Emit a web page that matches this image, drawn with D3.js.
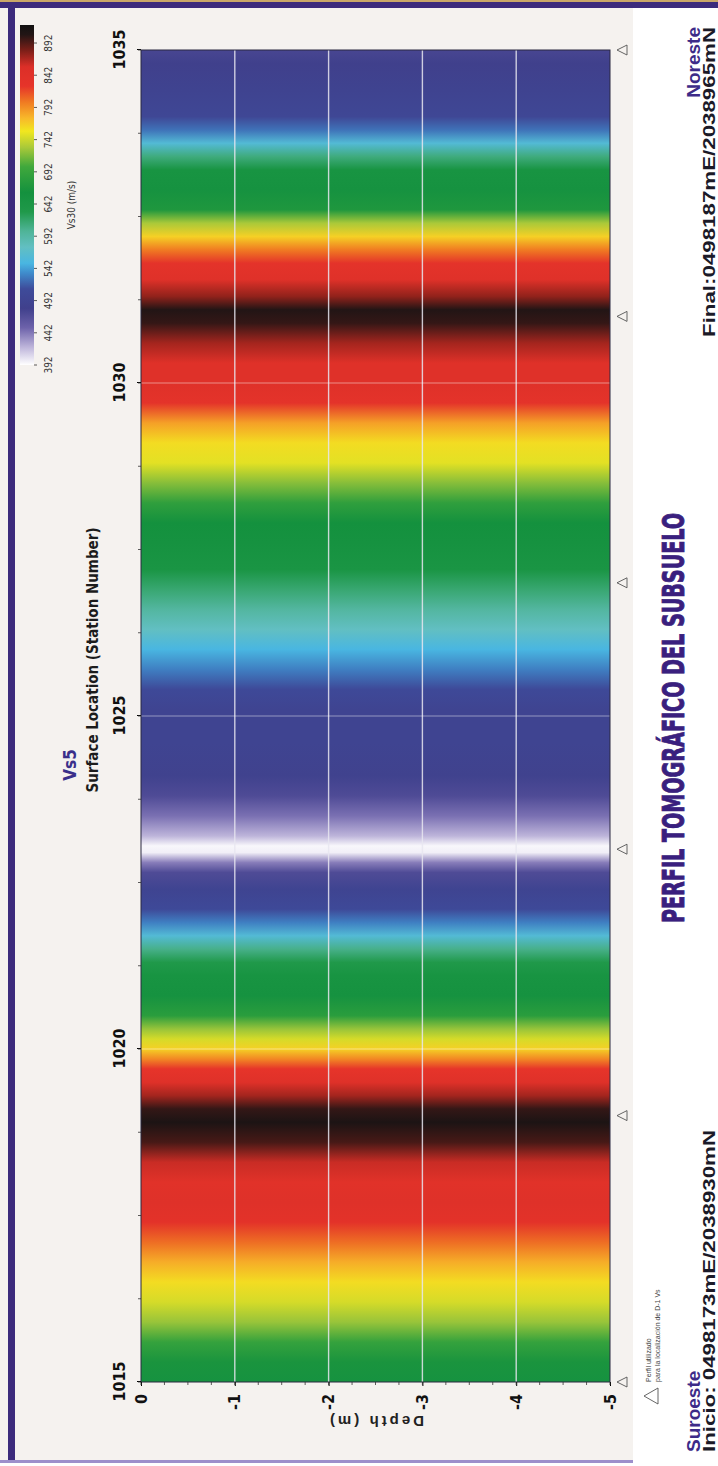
<!DOCTYPE html>
<html>
<head>
<meta charset="utf-8">
<script src="https://cdn.jsdelivr.net/npm/d3@7"></script>
<style>
  body { margin: 0; background: #fff; }
  svg { display: block; }
</style>
</head>
<body>
<svg id="chart" width="718" height="1466"></svg>
<script>
// Vs (m/s) read along the profile, by station number
const stations = [1015.0, 1015.3, 1015.6, 1015.9, 1016.2, 1016.5, 1016.8, 1017.1, 1017.4, 1017.7,
    1018.0, 1018.3, 1018.6, 1018.9, 1019.1, 1019.3, 1019.5, 1019.7, 1019.85, 1020.0,
    1020.15, 1020.3, 1020.5, 1020.8, 1021.1, 1021.3, 1021.5, 1021.7, 1021.9, 1022.1,
    1022.4, 1022.65, 1022.8, 1022.95, 1023.05, 1023.2, 1023.5, 1023.8, 1024.1, 1024.6,
    1025.1, 1025.4, 1025.7, 1026.0, 1026.3, 1026.6, 1026.9, 1027.2, 1027.6, 1027.9,
    1028.2, 1028.5, 1028.8, 1029.1, 1029.4, 1029.7, 1030.0, 1030.3, 1030.6, 1030.9,
    1031.1, 1031.3, 1031.55, 1031.8, 1032.0, 1032.2, 1032.4, 1032.6, 1032.9, 1033.2,
    1033.4, 1033.6, 1033.8, 1034.0, 1034.4, 1034.8, 1035.0];
const vs = [655, 665, 690, 725, 745, 760, 780, 805, 835, 845,
    840, 860, 895, 910, 900, 870, 845, 825, 795, 765,
    745, 725, 680, 655, 650, 630, 605, 560, 530, 505,
    490, 470, 440, 398, 395, 420, 445, 470, 485, 490,
    490, 505, 530, 550, 575, 595, 615, 645, 655, 660,
    685, 720, 750, 760, 785, 830, 845, 845, 870, 900,
    905, 875, 845, 830, 800, 765, 730, 670, 655, 650,
    610, 560, 525, 500, 488, 480, 475];

const stationTicks = [1015, 1020, 1025, 1030, 1035];
const depthTicks = [0, -1, -2, -3, -4, -5];
const markerStations = [1015, 1019, 1023, 1027, 1031, 1035];

const cbarTicks = [392, 442, 492, 542, 592, 642, 692, 742, 792, 842, 892];
const cbarValues = [392, 420, 450, 480, 510, 535, 550, 575, 600, 630, 660, 700, 730, 755, 775, 800, 825, 855, 880, 905, 920];
const cbarColors = ["#ffffff", "#bdb4da", "#6d62aa", "#40408c", "#3e4b9a", "#3f8ccc", "#49b6e1", "#62bfc2", "#4fb497", "#20994a",
    "#14913e", "#40a83c", "#aac939", "#f1e71f", "#f8b92a", "#f07b22", "#e6342a", "#dc2f28", "#7e1f18", "#221515", "#111111"];

var svg = d3.select("#chart");
var narrow = "'Liberation Sans Narrow', 'DejaVu Sans Condensed', 'Liberation Sans', sans-serif";
var wide = "'Liberation Sans', Arial, sans-serif";

// page frame
svg.append("rect").attr("x", 0).attr("y", 0).attr("width", 718).attr("height", 1466).attr("fill", "#fff");
svg.append("rect").attr("x", 0).attr("y", 0).attr("width", 633).attr("height", 1462).attr("fill", "#f5f2ef");
svg.append("rect").attr("x", 0).attr("y", 0).attr("width", 718).attr("height", 2).attr("fill", "#c9a768");
svg.append("rect").attr("x", 0).attr("y", 2).attr("width", 718).attr("height", 6).attr("fill", "#3c2b7c");
svg.append("rect").attr("x", 8).attr("y", 2).attr("width", 7).attr("height", 1458).attr("fill", "#3c2b7c");
svg.append("rect").attr("x", 0).attr("y", 1460).attr("width", 633).attr("height", 3).attr("fill", "#9d8fcb");

// the chart itself is drawn landscape and turned a quarter left
var g = svg.append("g").attr("transform", "translate(0,1466) rotate(-90)");

var x = d3.scaleLinear().domain([1015, 1035]).range([84, 1416]);
var y = d3.scaleLinear().domain([0, -5]).range([141, 610]);
var color = d3.scaleLinear().domain(cbarValues).range(cbarColors).clamp(true);
var cb = d3.scaleLinear().domain([392, 920]).range([1101, 1441]);

var defs = svg.append("defs");
var grad = defs.append("linearGradient").attr("id", "vsGrad");
grad.selectAll("stop").data(stations).enter().append("stop")
    .attr("offset", (d) => (x(d) - x(1015)) / (x(1035) - x(1015)))
    .attr("stop-color", (d, i) => color(vs[i]));

var cgrad = defs.append("linearGradient").attr("id", "cbGrad");
cgrad.selectAll("stop").data(cbarValues).enter().append("stop")
    .attr("offset", (d) => (cb(d) - cb(392)) / (cb(920) - cb(392)))
    .attr("stop-color", (d, i) => cbarColors[i]);

// section
g.append("rect")
    .attr("x", x(1015)).attr("y", y(0))
    .attr("width", x(1035) - x(1015)).attr("height", y(-5) - y(0))
    .attr("fill", "url(#vsGrad)");

g.selectAll(".hgrid").data([-1, -2, -3, -4]).enter().append("line")
    .attr("x1", x(1015)).attr("x2", x(1035))
    .attr("y1", (d) => y(d)).attr("y2", (d) => y(d))
    .attr("stroke", "#e8e6f0").attr("stroke-opacity", 0.85).attr("stroke-width", 1.4);

g.selectAll(".vgrid").data([1020, 1025, 1030]).enter().append("line")
    .attr("x1", (d) => x(d)).attr("x2", (d) => x(d))
    .attr("y1", y(0)).attr("y2", y(-5))
    .attr("stroke", "#ffffff").attr("stroke-opacity", 0.45).attr("stroke-width", 1);

g.append("rect")
    .attr("x", x(1015)).attr("y", y(0))
    .attr("width", x(1035) - x(1015)).attr("height", y(-5) - y(0))
    .attr("fill", "none").attr("stroke", "#2b2840").attr("stroke-width", 1);

// station axis (top)
var xAxis = g.append("g").attr("transform", "translate(0," + y(0) + ")")
    .call(d3.axisTop(x).tickValues(stationTicks).tickSize(4).tickPadding(12).tickFormat(d3.format("d")));
xAxis.select(".domain").remove();
xAxis.selectAll("text").attr("font-family", narrow).attr("font-weight", "bold").attr("font-size", 16).attr("fill", "#111");

g.selectAll(".xminor").data(d3.range(1015, 1035.001, 1.25)).enter().append("line")
    .attr("x1", (d) => x(d)).attr("x2", (d) => x(d))
    .attr("y1", y(0)).attr("y2", y(0) - 3)
    .attr("stroke", "#333").attr("stroke-width", 0.8);

// depth axis (left)
var yAxis = g.append("g").attr("transform", "translate(" + x(1015) + ",0)")
    .call(d3.axisLeft(y).tickValues(depthTicks).tickSize(4).tickPadding(8).tickFormat((d) => String(d)));
yAxis.select(".domain").remove();
yAxis.selectAll("text").attr("font-family", narrow).attr("font-weight", "bold").attr("font-size", 16).attr("fill", "#111");

g.selectAll(".yminor").data(d3.range(0, -5.001, -0.25)).enter().append("line")
    .attr("x1", x(1015)).attr("x2", x(1015) - 3)
    .attr("y1", (d) => y(d)).attr("y2", (d) => y(d))
    .attr("stroke", "#333").attr("stroke-width", 0.8);

g.append("text")
    .attr("transform", "translate(50," + y(-2.5) + ") rotate(-90)")
    .attr("text-anchor", "middle")
    .attr("font-family", wide).attr("font-weight", "bold").attr("font-size", 15)
    .attr("letter-spacing", 3).attr("fill", "#222")
    .text("Depth (m)");

// titles
g.append("text").attr("x", 701).attr("y", 76).attr("text-anchor", "middle")
    .attr("font-family", narrow).attr("font-weight", "bold").attr("font-size", 17).attr("fill", "#3a2f8a")
    .text("Vs5");
g.append("text").attr("x", 806).attr("y", 98).attr("text-anchor", "middle")
    .attr("font-family", narrow).attr("font-weight", "bold").attr("font-size", 15).attr("fill", "#1c1c1c")
    .text("Surface Location (Station Number)");

// station markers
g.selectAll(".marker").data(markerStations).enter().append("path")
    .attr("d", (d) => "M" + (x(d) - 5) + ",627 L" + (x(d) + 5) + ",627 L" + x(d) + ",617 Z")
    .attr("fill", "none").attr("stroke", "#555").attr("stroke-width", 0.9);

// legend for markers
g.append("path").attr("d", "M62,658 L78,658 L70,644 Z")
    .attr("fill", "none").attr("stroke", "#555").attr("stroke-width", 0.9);
g.append("text").attr("x", 84).attr("y", 651)
    .attr("font-family", wide).attr("font-size", 7).attr("fill", "#444").text("Perfil utilizado");
g.append("text").attr("x", 84).attr("y", 660)
    .attr("font-family", wide).attr("font-size", 7).attr("fill", "#444").text("para la localización de D-1 Vs");

// colour bar
g.append("rect").attr("x", cb(392)).attr("y", 20).attr("width", cb(920) - cb(392)).attr("height", 14)
    .attr("fill", "url(#cbGrad)");
g.selectAll(".cbtick").data(cbarTicks).enter().append("line")
    .attr("x1", (d) => cb(d)).attr("x2", (d) => cb(d))
    .attr("y1", 34).attr("y2", 37).attr("stroke", "#333").attr("stroke-width", 0.8);
g.selectAll(".cblabel").data(cbarTicks).enter().append("text")
    .attr("x", (d) => cb(d)).attr("y", 52).attr("text-anchor", "middle")
    .attr("font-family", narrow).attr("font-size", 10).attr("fill", "#333")
    .text((d) => d);
g.append("text").attr("x", cb(642) - 1).attr("y", 75).attr("text-anchor", "middle")
    .attr("font-family", narrow).attr("font-size", 10).attr("fill", "#333")
    .text("Vs30 (m/s)");

// sheet labels
g.append("text").attr("x", 543).attr("y", 684)
    .attr("textLength", 410).attr("lengthAdjust", "spacingAndGlyphs")
    .attr("font-family", narrow).attr("font-weight", "bold").attr("font-size", 30).attr("fill", "#3a1f7e")
    .attr("stroke", "#3a1f7e").attr("stroke-width", 0.9)
    .text("PERFIL TOMOGRÁFICO DEL SUBSUELO");

g.append("text").attr("x", 14).attr("y", 700)
    .attr("font-family", wide).attr("font-weight", "bold").attr("font-size", 19).attr("fill", "#3d2b88")
    .text("Suroeste");
g.append("text").attr("x", 14).attr("y", 715)
    .attr("textLength", 322).attr("lengthAdjust", "spacingAndGlyphs")
    .attr("font-family", wide).attr("font-weight", "bold").attr("font-size", 17).attr("fill", "#1b1a28")
    .text("Inicio: 0498173mE/2038930mN");
g.append("text").attr("x", 1439).attr("y", 700).attr("text-anchor", "end")
    .attr("font-family", wide).attr("font-weight", "bold").attr("font-size", 19).attr("fill", "#3d2b88")
    .text("Noreste");
g.append("text").attr("x", 1439).attr("y", 715).attr("text-anchor", "end")
    .attr("textLength", 310).attr("lengthAdjust", "spacingAndGlyphs")
    .attr("font-family", wide).attr("font-weight", "bold").attr("font-size", 17).attr("fill", "#1b1a28")
    .text("Final:0498187mE/2038965mN");
</script>
</body>
</html>
